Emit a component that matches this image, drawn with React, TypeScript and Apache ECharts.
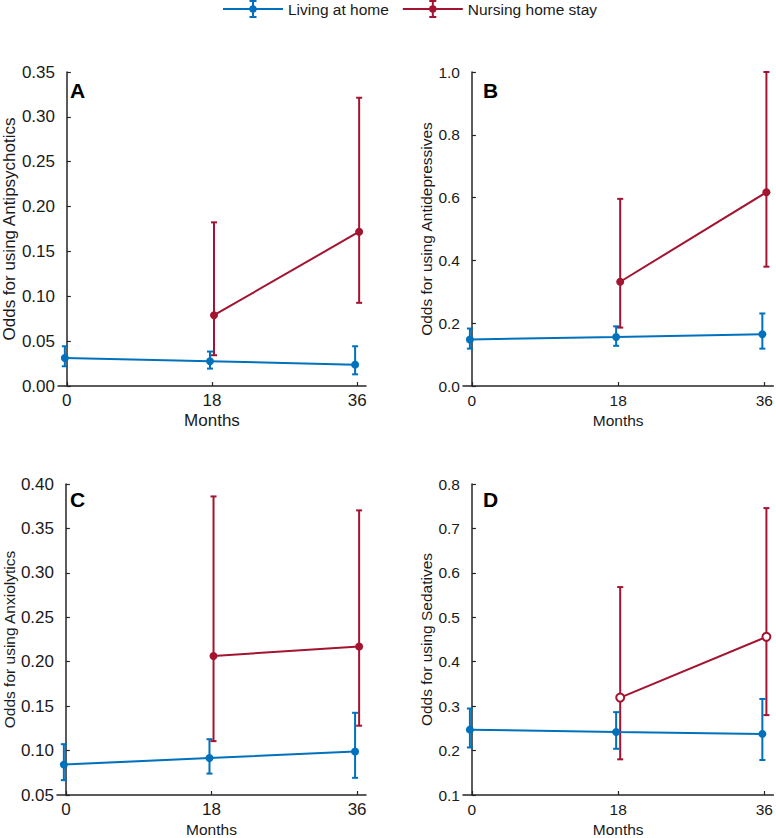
import React, { useEffect, useRef } from "react";
import * as echarts from "echarts";

// ---------- data ----------
const months = [0, 18, 36];
const nursingMonths = [18, 36];
const seriesNames = ["Living at home", "Nursing home stay"];
const panelLetters = ["A", "B", "C", "D"];
const yTitles = [
  "Odds for using Antipsychotics",
  "Odds for using Antidepressives",
  "Odds for using Anxiolytics",
  "Odds for using Sedatives",
];
const xTitle = "Months";

// Panel A – Antipsychotics
const homeA = [0.0313, 0.0276, 0.0238];
const homeALow = [0.022, 0.0194, 0.013];
const homeAHigh = [0.0443, 0.0384, 0.0443];
const nursingA = [0.0789, 0.172];
const nursingALow = [0.0343, 0.0927];
const nursingAHigh = [0.1824, 0.3213];

// Panel B – Antidepressives
const homeB = [0.148, 0.156, 0.165];
const homeBLow = [0.119, 0.128, 0.119];
const homeBHigh = [0.183, 0.19, 0.231];
const nursingB = [0.332, 0.617];
const nursingBLow = [0.186, 0.38];
const nursingBHigh = [0.596, 1.0];

// Panel C – Anxiolytics
const homeC = [0.0842, 0.0916, 0.099];
const homeCLow = [0.0667, 0.0741, 0.0693];
const homeCHigh = [0.1072, 0.1128, 0.1425];
const nursingC = [0.2064, 0.2172];
const nursingCLow = [0.1106, 0.128];
const nursingCHigh = [0.386, 0.3703];

// Panel D – Sedatives
const homeD = [0.2471, 0.2419, 0.2375];
const homeDLow = [0.207, 0.204, 0.1788];
const homeDHigh = [0.2947, 0.2865, 0.3162];
const nursingD = [0.3192, 0.456];
const nursingDLow = [0.1803, 0.2798];
const nursingDHigh = [0.568, 0.7457];

// axis ranges
const yMin = [0, 0, 0.05, 0.1];
const yMax = [0.35, 1.0, 0.4, 0.8];
const yStep = [0.05, 0.2, 0.05, 0.1];
const yDecimals = [2, 1, 2, 1];

// ---------- layout / style ----------
const BLUE = "#0072BD";
const RED = "#A2142F";
const AXIS = "#262626";
const TEXT = "#1a1a1a";
const FONT = '"Liberation Sans", Arial, Helvetica, sans-serif';
const DODGE = 0.25;

const grids = [
  { left: 52, top: 72, width: 314, height: 314 },
  { left: 463, top: 72, width: 313, height: 314 },
  { left: 52, top: 484, width: 314, height: 314 },
  { left: 463, top: 484, width: 313, height: 314 },
];
const tickFont = [17, 15.5, 17, 15.5];
const titleFont = [17, 15.5, 15.5, 15.5];
const yNameGap = [35, 28, 36, 29];
const letterPos = [
  { left: 70, top: 80 },
  { left: 483, top: 80 },
  { left: 70, top: 489 },
  { left: 483, top: 489 },
];

const panels = [
  { home: homeA, homeLow: homeALow, homeHigh: homeAHigh, nurse: nursingA, nurseLow: nursingALow, nurseHigh: nursingAHigh },
  { home: homeB, homeLow: homeBLow, homeHigh: homeBHigh, nurse: nursingB, nurseLow: nursingBLow, nurseHigh: nursingBHigh },
  { home: homeC, homeLow: homeCLow, homeHigh: homeCHigh, nurse: nursingC, nurseLow: nursingCLow, nurseHigh: nursingCHigh },
  { home: homeD, homeLow: homeDLow, homeHigh: homeDHigh, nurse: nursingD, nurseLow: nursingDLow, nurseHigh: nursingDHigh },
];

const legendIcon =
  "path://M0,8H60V10H0Z M29,1H31V17H29Z M26.5,0H33.5V2H26.5Z M26.5,16H33.5V18H26.5Z M26.3,9A3.7,3.7 0 1,1 33.7,9A3.7,3.7 0 1,1 26.3,9Z";

function errorBarRender(color: string) {
  return (params: any, api: any) => {
    const x = api.value(0);
    const lo = api.coord([x, api.value(1)]);
    const hi = api.coord([x, api.value(2)]);
    const cap = 3;
    const style = { stroke: color, lineWidth: 2 };
    return {
      type: "group",
      children: [
        { type: "line", shape: { x1: lo[0], y1: lo[1], x2: hi[0], y2: hi[1] }, style },
        { type: "line", shape: { x1: lo[0] - cap, y1: lo[1], x2: lo[0] + cap, y2: lo[1] }, style },
        { type: "line", shape: { x1: hi[0] - cap, y1: hi[1], x2: hi[0] + cap, y2: hi[1] }, style },
      ],
    };
  };
}

function buildOption() {
  const xAxis: any[] = [];
  const yAxis: any[] = [];
  const errSeries: any[] = [];
  const lineSeries: any[] = [];

  panels.forEach((p, i) => {
    xAxis.push({
      type: "value",
      gridIndex: i,
      min: -1.1,
      max: 37.1,
      name: xTitle,
      nameLocation: "middle",
      nameGap: 26,
      nameTextStyle: { fontSize: titleFont[i], color: TEXT, fontFamily: FONT },
      axisLine: { show: true, lineStyle: { color: AXIS, width: 1.5 } },
      axisTick: { show: true, inside: true, length: 4, customValues: months, lineStyle: { color: AXIS, width: 1.2 } },
      axisLabel: { customValues: months, fontSize: tickFont[i], color: TEXT, fontFamily: FONT, margin: 6 },
      splitLine: { show: false },
    });
    yAxis.push({
      type: "value",
      gridIndex: i,
      min: yMin[i],
      max: yMax[i],
      interval: yStep[i],
      name: yTitles[i],
      nameLocation: "middle",
      nameRotate: 90,
      nameGap: yNameGap[i],
      nameTextStyle: { fontSize: titleFont[i], color: TEXT, fontFamily: FONT },
      axisLine: { show: true, lineStyle: { color: AXIS, width: 1.5 } },
      axisTick: { show: true, inside: true, length: 4, lineStyle: { color: AXIS, width: 1.2 } },
      axisLabel: {
        fontSize: tickFont[i],
        color: TEXT,
        fontFamily: FONT,
        margin: 3,
        formatter: (v: number) => v.toFixed(yDecimals[i]),
      },
      splitLine: { show: false },
    });

    errSeries.push({
      name: seriesNames[0],
      type: "custom",
      xAxisIndex: i,
      yAxisIndex: i,
      itemStyle: { color: BLUE },
      renderItem: errorBarRender(BLUE),
      encode: { x: 0, y: [1, 2] },
      data: months.map((m, j) => [m - DODGE, p.homeLow[j], p.homeHigh[j]]),
      z: 2,
    });
    errSeries.push({
      name: seriesNames[1],
      type: "custom",
      xAxisIndex: i,
      yAxisIndex: i,
      itemStyle: { color: RED },
      renderItem: errorBarRender(RED),
      encode: { x: 0, y: [1, 2] },
      data: nursingMonths.map((m, j) => [m + DODGE, p.nurseLow[j], p.nurseHigh[j]]),
      z: 2,
    });
    lineSeries.push({
      name: seriesNames[0],
      type: "line",
      xAxisIndex: i,
      yAxisIndex: i,
      data: months.map((m, j) => [m - DODGE, p.home[j]]),
      symbol: "circle",
      symbolSize: 8,
      lineStyle: { color: BLUE, width: 2 },
      itemStyle: { color: BLUE },
      z: 3,
    });
    lineSeries.push({
      name: seriesNames[1],
      type: "line",
      xAxisIndex: i,
      yAxisIndex: i,
      data: nursingMonths.map((m, j) => [m + DODGE, p.nurse[j]]),
      symbol: i === 3 ? "emptyCircle" : "circle",
      symbolSize: 8,
      lineStyle: { color: RED, width: 2 },
      itemStyle: { color: RED, borderColor: RED, borderWidth: i === 3 ? 2 : 0 },
      z: 4,
    });
  });

  return {
    animation: false,
    backgroundColor: "#ffffff",
    textStyle: { fontFamily: FONT },
    legend: {
      left: 223,
      top: 0,
      padding: 0,
      itemWidth: 60,
      itemHeight: 18,
      itemGap: 14,
      selectedMode: false,
      textStyle: { fontSize: 15.5, color: TEXT, fontFamily: FONT },
      data: seriesNames.map((n) => ({ name: n, icon: legendIcon })),
    },
    grid: grids,
    xAxis,
    yAxis,
    graphic: panelLetters.map((t, i) => ({
      type: "text",
      left: letterPos[i].left,
      top: letterPos[i].top,
      style: { text: t, font: `bold 21px ${FONT}`, fill: "#000" },
    })),
    series: [...errSeries, ...lineSeries],
  };
}

export default function App() {
  const ref = useRef<HTMLDivElement>(null);
  useEffect(() => {
    if (!ref.current) return;
    const chart = echarts.init(ref.current, undefined, { renderer: "svg" });
    chart.setOption(buildOption() as any);
    return () => chart.dispose();
  }, []);
  return (
    <div
      ref={ref}
      style={{ position: "absolute", left: 0, top: 0, width: 776, height: 838, background: "#fff" }}
    />
  );
}
